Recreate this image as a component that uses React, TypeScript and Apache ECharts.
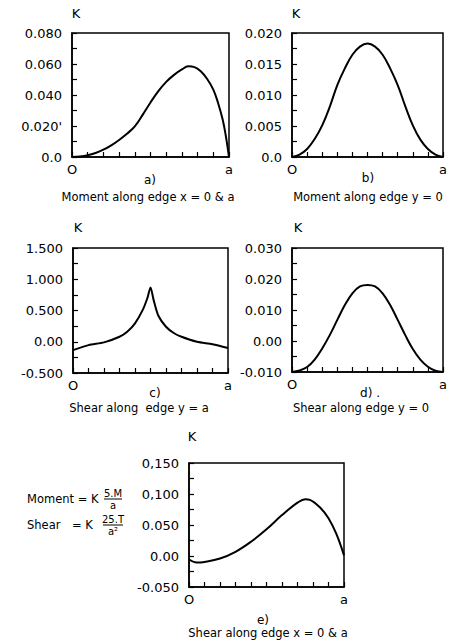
import React, { useEffect, useRef } from "react";
import * as echarts from "echarts";

// x positions along edge (0 = "O", 1 = "a")
const xA = [0, 0.05, 0.1, 0.15, 0.2, 0.25, 0.3, 0.35, 0.4, 0.45, 0.5, 0.55, 0.6, 0.65, 0.7, 0.74, 0.78, 0.82, 0.86, 0.9, 0.93, 0.96, 0.98, 1.0];
const yA = [0, 0.0003, 0.0011, 0.0026, 0.0047, 0.0075, 0.011, 0.015, 0.0198, 0.0272, 0.0352, 0.0425, 0.0485, 0.053, 0.0565, 0.0585, 0.058, 0.0553, 0.0505, 0.0435, 0.035, 0.024, 0.0135, 0];

const xB = [0, 0.05, 0.1, 0.15, 0.2, 0.25, 0.3, 0.35, 0.4, 0.45, 0.5, 0.55, 0.6, 0.65, 0.7, 0.75, 0.8, 0.85, 0.9, 0.95, 1.0];
const yB = [0, 0.0004, 0.0013, 0.0029, 0.0051, 0.0081, 0.0116, 0.0143, 0.0165, 0.0178, 0.0183, 0.0178, 0.0165, 0.0143, 0.0116, 0.0082, 0.0051, 0.0028, 0.0013, 0.0004, 0];

const xC = [0, 0.1, 0.2, 0.3, 0.35, 0.4, 0.45, 0.48, 0.5, 0.52, 0.55, 0.6, 0.65, 0.7, 0.8, 0.9, 1.0];
const yC = [-0.134, -0.054, -0.01, 0.08, 0.16, 0.295, 0.51, 0.7, 0.87, 0.67, 0.42, 0.24, 0.14, 0.08, 0.0, -0.04, -0.1];

const xD = [0, 0.05, 0.1, 0.15, 0.2, 0.25, 0.3, 0.35, 0.4, 0.45, 0.5, 0.55, 0.6, 0.65, 0.7, 0.75, 0.8, 0.85, 0.9, 0.95, 1.0];
const yD = [-0.01, -0.0095, -0.0084, -0.006, -0.0024, 0.0019, 0.0068, 0.0116, 0.0154, 0.0176, 0.0181, 0.0176, 0.0154, 0.0116, 0.0068, 0.0019, -0.0026, -0.006, -0.0083, -0.0096, -0.01];

const xE = [0, 0.05, 0.1, 0.2, 0.3, 0.4, 0.5, 0.6, 0.7, 0.75, 0.78, 0.85, 0.9, 0.95, 1.0];
const yE = [-0.0057, -0.0105, -0.0095, -0.004, 0.0068, 0.023, 0.043, 0.066, 0.086, 0.0916, 0.0905, 0.077, 0.061, 0.036, 0.001];

// tick labels (bottom to top)
const ticksA = ["0.0", "0.020'", "0.040", "0.060", "0.080"];
const ticksB = ["0.0", "0.005", "0.010", "0.015", "0.020"];
const ticksC = ["-0.500", "0.00", "0.500", "1.000", "1.500"];
const ticksD = ["-0.010", "0.00", "0.010", "0.020", "0.030"];
const ticksE = ["-0.050", "0.00", "0.050", "0,100", "0,150"];
const yRanges = [
  [0, 0.08, 0.02],
  [0, 0.02, 0.005],
  [-0.5, 1.5, 0.5],
  [-0.01, 0.03, 0.01],
  [-0.05, 0.15, 0.05],
];
const xEndLabels = ["O", "a"];

const FONT = "DejaVu Sans";

export default function App() {
  const ref = useRef<HTMLDivElement>(null);
  useEffect(() => {
    if (!ref.current) return;
    const chart = echarts.init(ref.current, null, { renderer: "svg" });
    const grids = [
      { left: 72, top: 33, width: 157, height: 124 },
      { left: 292, top: 33, width: 151, height: 124 },
      { left: 73, top: 248, width: 155, height: 125 },
      { left: 292, top: 248, width: 151, height: 124 },
      { left: 189, top: 463, width: 155, height: 124 },
    ];
    const tickSets = [ticksA, ticksB, ticksC, ticksD, ticksE];
    const xs = [xA, xB, xC, xD, xE];
    const ys = [yA, yB, yC, yD, yE];

    const xAxis = grids.map((_, i) => ({
      type: "value",
      gridIndex: i,
      min: 0,
      max: 1,
      interval: 0.1,
      axisLine: { show: true, onZero: false, lineStyle: { color: "#000", width: 1.5 } },
      axisTick: { show: true, inside: true, length: 5, lineStyle: { color: "#000", width: 1.2 } },
      splitLine: { show: false },
      axisLabel: {
        show: true,
        margin: 6,
        color: "#000",
        fontFamily: FONT,
        fontSize: 13,
        formatter: (v: number) => (Math.abs(v) < 1e-9 ? xEndLabels[0] : Math.abs(v - 1) < 1e-9 ? xEndLabels[1] : ""),
      },
    }));

    const yAxis = grids.map((_, i) => {
      const [mn, mx, step] = yRanges[i];
      return {
        type: "value",
        gridIndex: i,
        min: mn,
        max: mx,
        interval: step,
        axisLine: { show: true, onZero: false, lineStyle: { color: "#000", width: 1.5 } },
        axisTick: { show: true, inside: true, length: 5, lineStyle: { color: "#000", width: 1.2 } },
        minorTick: { show: true, splitNumber: 2, length: 5, lineStyle: { color: "#000", width: 1.2 } },
        splitLine: { show: false },
        axisLabel: {
          show: true,
          margin: 10,
          color: "#000",
          fontFamily: FONT,
          fontSize: 13,
          formatter: (v: number) => {
            const idx = Math.round((v - mn) / step);
            return tickSets[i][idx] ?? "";
          },
        },
      };
    });

    const series = xs.map((xv, i) => ({
      type: "line",
      xAxisIndex: i,
      yAxisIndex: i,
      data: xv.map((x, j) => [x, ys[i][j]]),
      smooth: i === 2 ? 0.25 : 0.4,
      showSymbol: false,
      symbol: "none",
      lineStyle: { color: "#000", width: 2 },
    }));

    const txt = (x: number, y: number, text: string, size = 12, align = "center", weight: any = "normal") => ({
      type: "text",
      x,
      y,
      style: { text, fill: "#000", font: `${weight} ${size}px "${FONT}"`, align, verticalAlign: "middle" },
    });

    const graphic: any[] = [
      txt(76, 13, "K", 13),
      txt(296, 13, "K", 13),
      txt(78, 227, "K", 13),
      txt(298, 227, "K", 13),
      txt(192, 436, "K", 13),
      txt(150, 180, "a)", 12),
      txt(368, 178, "b)", 12),
      txt(155, 393, "c)", 12),
      txt(370, 393, "d) .", 12),
      txt(263, 620, "e)", 12),
      txt(148, 197, "Moment along edge x = 0 & a", 11.5),
      txt(368, 197, "Moment along edge y = 0", 11.5),
      txt(139, 408, "Shear along  edge y = a", 11.5),
      txt(361, 408, "Shear along edge y = 0", 11.5),
      txt(268, 633, "Shear along edge x = 0 & a", 11.5),
      // formulas
      txt(27, 499, "Moment = K", 11.5, "left"),
      txt(113, 493, "5.M", 10, "center"),
      { type: "line", shape: { x1: 104, y1: 499, x2: 122, y2: 499 }, style: { stroke: "#000", lineWidth: 1 } },
      txt(113, 505, "a", 10, "center"),
      txt(27, 525, "Shear", 11.5, "left"),
      txt(72, 525, "= K", 11.5, "left"),
      txt(113, 519, "25.T", 10, "center"),
      { type: "line", shape: { x1: 103, y1: 525, x2: 123, y2: 525 }, style: { stroke: "#000", lineWidth: 1 } },
      txt(113, 531, "a²", 10, "center"),
    ];

    chart.setOption({
      animation: false,
      backgroundColor: "#fff",
      grid: grids.map((g) => ({ ...g, show: true, borderColor: "#000", borderWidth: 1.5, backgroundColor: "transparent" })),
      xAxis,
      yAxis,
      series,
      graphic,
    } as any);
    return () => chart.dispose();
  }, []);
  return <div ref={ref} style={{ position: "fixed", left: 0, top: 0, width: 456, height: 644, background: "#fff" }} />;
}
